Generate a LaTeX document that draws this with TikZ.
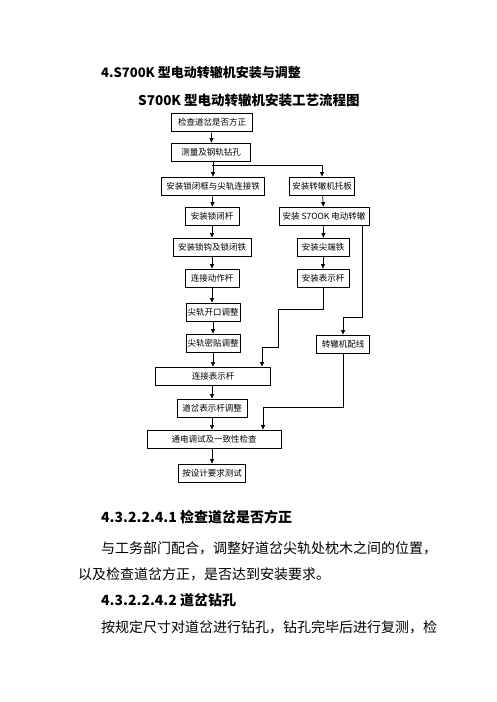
\documentclass[tikz,border=0pt]{standalone}
\usepackage{fontspec}
\setmainfont{Noto Sans CJK SC}
\usetikzlibrary{arrows.meta}
\begin{document}
\begin{tikzpicture}[x=1pt,y=-1pt,
  box/.style={draw=black,line width=0.8pt,minimum height=18pt,inner sep=0pt,font=\fontsize{8.5}{10}\selectfont},
  arr/.style={draw=black,line width=0.7pt,-{Triangle[length=4.5pt,width=4pt]}},
  ln/.style={draw=black,line width=0.7pt},
  txt/.style={anchor=west,inner sep=0pt,font=\fontsize{14}{16}\selectfont},
  hd/.style={anchor=west,inner sep=0pt,font=\fontsize{14}{16}\selectfont\bfseries}]
\useasboundingbox (0,0) rectangle (496,702);
\fill[white] (0,0) rectangle (496,702);
% titles
\node[anchor=west,inner sep=0pt,font=\fontsize{13}{15}\selectfont\bfseries] (t1) at (101,73) {4.S700K 型电动转辙机安装与调整};
\node[anchor=west,inner sep=0pt,font=\fontsize{13.5}{15}\selectfont\bfseries] (t2) at (138,100) {S700K 型电动转辙机安装工艺流程图};
% boxes
\node[box,minimum width=81pt] (b1) at (212,122) {检查道岔是否方正};
\node[box,minimum width=79pt] (b2) at (211,152) {测量及钢轨钻孔};
\node[box,minimum width=103pt] (b3) at (213,186) {安装锁闭框与尖轨连接铁};
\node[box,minimum width=65pt] (b4) at (322,186) {安装转辙机托板};
\node[box,minimum width=54pt] (b5) at (212,216) {安装锁闭杆};
\node[box,minimum width=90pt] (b6) at (324,216) {安装 S7OOK 电动转辙};
\node[box,minimum width=78pt] (b7) at (212,247) {安装锁钩及锁闭铁};
\node[box,minimum width=52pt] (b8) at (323,247) {安装尖端铁};
\node[box,minimum width=54pt] (b9) at (212,278) {连接动作杆};
\node[box,minimum width=52pt] (b10) at (323,278) {安装表示杆};
\node[box,minimum width=54pt] (b11) at (213,312) {尖轨开口调整};
\node[box,minimum width=54pt] (b12) at (213,343) {尖轨密贴调整};
\node[box,minimum width=53pt] (b13) at (343,344) {转辙机配线};
\node[box,minimum width=115pt] (b14) at (213,376) {连接表示杆};
\node[box,minimum width=70pt] (b15) at (212,408) {道岔表示杆调整};
\node[box,minimum width=134pt] (b16) at (214,439) {通电调试及一致性检查};
\node[box,minimum width=67pt] (b17) at (212,473) {按设计要求测试};
% connectors
\draw[arr] (b1) -- (b2);
\draw[arr] (b2.south -| b3.north) -- (b3);
\coordinate (j1) at (212,165);
\draw[arr] (j1) -| (b4.north);
\draw[arr] (b3) -- (b5);
\draw[arr] (b5) -- (b7);
\draw[arr] (b7) -- (b9);
\draw[arr] (b9.south) -- (b9.south |- b11.north);
\draw[arr] (b11) -- (b12);
\draw[arr] (b12.south) -- (b12.south |- b14.north);
\draw[arr] (b4) -- (b6);
\draw[arr] (b6) -- (b8);
\draw[arr] (b8) -- (b10);
\coordinate (r1) at (323,309);
\coordinate (r2) at (278,309);
\coordinate (r3) at (278,347);
\coordinate (r4) at (262,347);
\draw[ln] (b10.south) -- (r1) -- (r2) -- (r3) -- (r4);
\draw[arr] (r4) -- (r4 |- b14.north);
\coordinate (s0) at (362,225);
\coordinate (s1) at (362,317);
\coordinate (s2) at (343,317);
\draw[ln] (s0) -- (s1) -- (s2);
\draw[arr] (s2) -- (b13.north);
\coordinate (u1) at (343,407);
\coordinate (u2) at (263,407);
\draw[ln] (b13.south) -- (u1) -- (u2);
\draw[arr] (u2) -- (u2 |- b16.north);
\draw[arr] (b14.south -| b15.north) -- (b15);
\draw[arr] (b15) -- (b16.north -| b15.south);
\draw[arr] (b16.south -| b17.north) -- (b17);
% body text
\node[hd] (h1) at (101,517) {4.3.2.2.4.1 检查道岔是否方正};
\node[txt] (p1) at (101,548) {与工务部门配合，调整好道岔尖轨处枕木之间的位置，};
\node[txt] (p2) at (78,574) {以及检查道岔方正，是否达到安装要求。};
\node[hd] (h2) at (101,600) {4.3.2.2.4.2 道岔钻孔};
\node[txt] (p3) at (101,627) {按规定尺寸对道岔进行钻孔，钻孔完毕后进行复测，检};
\end{tikzpicture}
\end{document}
